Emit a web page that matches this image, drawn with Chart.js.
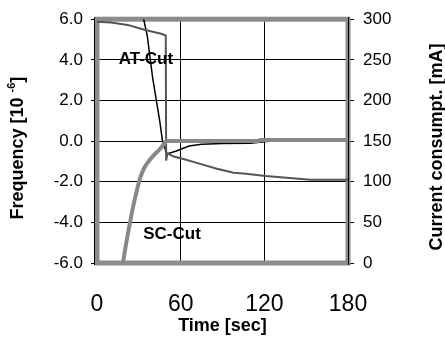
<!DOCTYPE html>
<html>
<head>
<meta charset="utf-8">
<script src="https://cdn.jsdelivr.net/npm/chart.js@4/dist/chart.umd.min.js"></script>
<style>
  body { margin: 0; background: #fff; }
  #wrap { width: 445px; height: 340px; }
</style>
</head>
<body>
<div id="wrap"><canvas id="crystalChart" width="445" height="340"></canvas></div>
<script>
// Values
const atTime = [32.5, 36, 40, 45, 47, 50, 57, 66, 75, 90, 110, 125, 180];
const atFreq = [6.3, 5.2, 3.07, 0.98, 0, -0.63, -0.49, -0.24, -0.15, -0.12, -0.1, 0, 0];

const scTime = [18.6, 21, 23.7, 26, 28.7, 31, 34, 37, 40, 45, 48, 50, 116, 117, 180];
const scFreq = [-6, -5, -4, -3.2, -2.4, -1.8, -1.3, -1.0, -0.75, -0.4, -0.15, 0, 0, 0.06, 0.06];

const curTime = [0, 10, 22, 34, 46, 49.3, 49.6, 50.5, 55, 62, 74, 86, 98, 105, 121, 136, 153, 180];
const curValue = [297, 296, 293, 287, 282, 280, 126, 135, 131, 128, 122, 116, 111, 110, 107, 105, 102.5, 102.5];

const timeTicks = [0, 60, 120, 180];
const freqTicks = [-6, -4, -2, 0, 2, 4, 6];
const currentTicks = [0, 50, 100, 150, 200, 250, 300];

const toPoints = (xs, ys) => xs.map((x, i) => ({ x: x, y: ys[i] }));

Chart.defaults.font.family = "'Liberation Sans', Arial, sans-serif";
Chart.defaults.color = '#000';

// grey frame round the plot area, drawn under the lines
const framePlugin = {
    id: 'frame',
    beforeDatasetsDraw(chart) {
        const { ctx, chartArea: a } = chart;
        ctx.save();
        ctx.strokeStyle = '#8c8c8c';
        ctx.lineWidth = 5;
        ctx.strokeRect(a.left, a.top, a.right - a.left, a.bottom - a.top);
        ctx.strokeStyle = '#000';
        ctx.lineWidth = 1;
        ctx.beginPath();
        ctx.moveTo(a.left - 2.5, a.top - 2);
        ctx.lineTo(a.left - 2.5, a.bottom + 2);
        ctx.moveTo(a.right + 0.5, a.top - 2);
        ctx.lineTo(a.right + 0.5, a.bottom + 2);
        ctx.stroke();
        ctx.restore();
    }
};

// curve labels and the two vertical axis titles
const labelPlugin = {
    id: 'labels',
    afterDatasetsDraw(chart) {
        const { ctx, chartArea: a, scales } = chart;
        ctx.save();
        ctx.fillStyle = '#000';
        ctx.textAlign = 'center';
        ctx.textBaseline = 'middle';
        ctx.font = "bold 17px 'Liberation Sans', Arial, sans-serif";
        ctx.fillText('AT-Cut', scales.x.getPixelForValue(35.1), scales.y.getPixelForValue(4.05));
        ctx.fillText('SC-Cut', scales.x.getPixelForValue(53.8), scales.y.getPixelForValue(-4.6));

        const midY = (a.top + a.bottom) / 2;
        drawVertical(ctx, 18, midY + 7, [
            { text: 'Frequency [10 ', size: 18, dy: 0 },
            { text: '-6', size: 11, dy: -6 },
            { text: ']', size: 18, dy: 0 }
        ]);
        drawVertical(ctx, 437, midY + 6, [
            { text: 'Current consumpt. [mA]', size: 18, dy: 0 }
        ]);
        ctx.restore();
    }
};

function drawVertical(ctx, x, y, parts) {
    ctx.save();
    ctx.translate(x, y);
    ctx.rotate(-Math.PI / 2);
    ctx.textAlign = 'left';
    ctx.textBaseline = 'middle';
    let total = 0;
    parts.forEach(p => {
        ctx.font = 'bold ' + p.size + "px 'Liberation Sans', Arial, sans-serif";
        p.w = ctx.measureText(p.text).width;
        total += p.w;
    });
    let pos = -total / 2;
    parts.forEach(p => {
        ctx.font = 'bold ' + p.size + "px 'Liberation Sans', Arial, sans-serif";
        ctx.fillText(p.text, pos, p.dy);
        pos += p.w;
    });
    ctx.restore();
}

const ctx = document.getElementById('crystalChart').getContext('2d');
new Chart(ctx, {
    type: 'line',
    data: {
        datasets: [
            {
                label: 'SC-Cut',
                data: toPoints(scTime, scFreq),
                yAxisID: 'y',
                borderColor: '#888888',
                borderWidth: 4,
                pointRadius: 0,
                cubicInterpolationMode: 'monotone'
            },
            {
                label: 'Current',
                data: toPoints(curTime, curValue),
                yAxisID: 'y2',
                borderColor: '#555555',
                borderWidth: 2,
                pointRadius: 0,
                tension: 0
            },
            {
                label: 'AT-Cut',
                data: toPoints(atTime, atFreq),
                yAxisID: 'y',
                borderColor: '#000000',
                borderWidth: 1.5,
                pointRadius: 0,
                tension: 0
            }
        ]
    },
    options: {
        responsive: false,
        animation: false,
        layout: { padding: { top: 17, left: 0, right: 0, bottom: 0 } },
        plugins: {
            legend: { display: false },
            tooltip: { enabled: false }
        },
        scales: {
            x: {
                type: 'linear',
                min: 0,
                max: 180,
                afterBuildTicks: s => { s.ticks = timeTicks.map(v => ({ value: v })); },
                afterFit: s => { s.height = 77; },
                ticks: { font: { size: 23 }, padding: 28, color: '#000' },
                grid: { color: '#000', lineWidth: 1, drawTicks: false },
                border: { display: false },
                title: {
                    display: true,
                    text: 'Time [sec]',
                    font: { size: 18, weight: 'bold' },
                    padding: { top: 0, bottom: 3 }
                }
            },
            y: {
                position: 'left',
                min: -6,
                max: 6,
                afterBuildTicks: s => { s.ticks = freqTicks.map(v => ({ value: v })); },
                afterFit: s => { s.width = 97; },
                ticks: { font: { size: 17 }, padding: 8, color: '#000', callback: v => v.toFixed(1) },
                grid: { color: '#000', lineWidth: 1, tickLength: 6, tickColor: '#000' },
                border: { display: true, color: '#000' }
            },
            y2: {
                position: 'right',
                min: 0,
                max: 300,
                afterBuildTicks: s => { s.ticks = currentTicks.map(v => ({ value: v })); },
                afterFit: s => { s.width = 97; },
                ticks: { font: { size: 17 }, padding: 9, color: '#000' },
                grid: { drawOnChartArea: false, tickLength: 6, tickColor: '#000' },
                border: { display: true, color: '#000' }
            }
        }
    },
    plugins: [framePlugin, labelPlugin]
});
</script>
</body>
</html>
